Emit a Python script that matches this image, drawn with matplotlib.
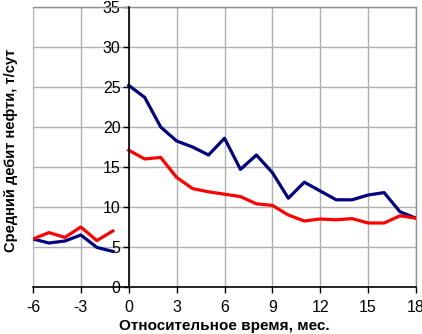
import matplotlib
matplotlib.use("Agg")
import matplotlib.pyplot as plt

plt.rcParams['font.family'] = ['Liberation Sans', 'DejaVu Sans']

months_before = [-6, -5, -4, -3, -2, -1]
months_after = list(range(0, 19))

blue_before = [6.0, 5.5, 5.75, 6.5, 4.95, 4.45]
red_before = [6.0, 6.8, 6.2, 7.5, 5.8, 7.0]

blue_after = [25.2, 23.7, 20.0, 18.25, 17.5, 16.5, 18.6, 14.7, 16.5, 14.3,
              11.1, 13.1, 12.0, 10.9, 10.9, 11.5, 11.8, 9.4, 8.6]
red_after = [17.1, 16.0, 16.2, 13.7, 12.3, 11.9, 11.6, 11.3, 10.4, 10.2,
             9.0, 8.25, 8.5, 8.4, 8.55, 8.0, 8.0, 8.9, 8.6]

xticks = [-6, -3, 0, 3, 6, 9, 12, 15, 18]
yticks = [0, 5, 10, 15, 20, 25, 30, 35]

blue = '#000080'
red = '#ff0000'

fig = plt.figure(figsize=(4.22, 3.34), dpi=100)
ax = fig.add_axes([33/422, 1-287/334, (416-33)/422, (287-7)/334])

ax.plot(months_before, blue_before, color=blue, lw=2.3, zorder=3)
ax.plot(months_before, red_before, color=red, lw=2.3, zorder=3)
ax.plot(months_after, blue_after, color=blue, lw=2.3, zorder=3)
ax.plot(months_after, red_after, color=red, lw=2.3, zorder=3)

ax.set_xlim(-6, 18)
ax.set_ylim(0, 35)
ax.set_xticks(xticks)
ax.set_yticks(yticks)
ax.set_xticklabels([str(v) for v in xticks])
ax.set_yticklabels([str(v) for v in yticks])
ax.grid(True, color='#b0b0b0', lw=1)
ax.set_axisbelow(True)

for s in ['top', 'right']:
    ax.spines[s].set_color('#909090')
    ax.spines[s].set_linewidth(1)
ax.spines['left'].set_position(('data', 0))
ax.spines['left'].set_color('black')
ax.spines['left'].set_linewidth(1.2)
ax.spines['left'].set_zorder(4)
ax.spines['bottom'].set_color('black')
ax.spines['bottom'].set_linewidth(1.2)

ax.tick_params(axis='both', direction='out', length=4, width=1, color='black',
               labelsize=11.5, pad=2)
ax.tick_params(axis='x', pad=5)

ax.set_xlabel('Относительное время, мес.', fontsize=11, fontweight='bold', labelpad=3)
fig.text(0.026, 0.55, 'Средний дебит нефти, т/сут', rotation=90, fontsize=10.5,
         fontweight='bold', ha='center', va='center')

fig.savefig('out.png', dpi=100)
